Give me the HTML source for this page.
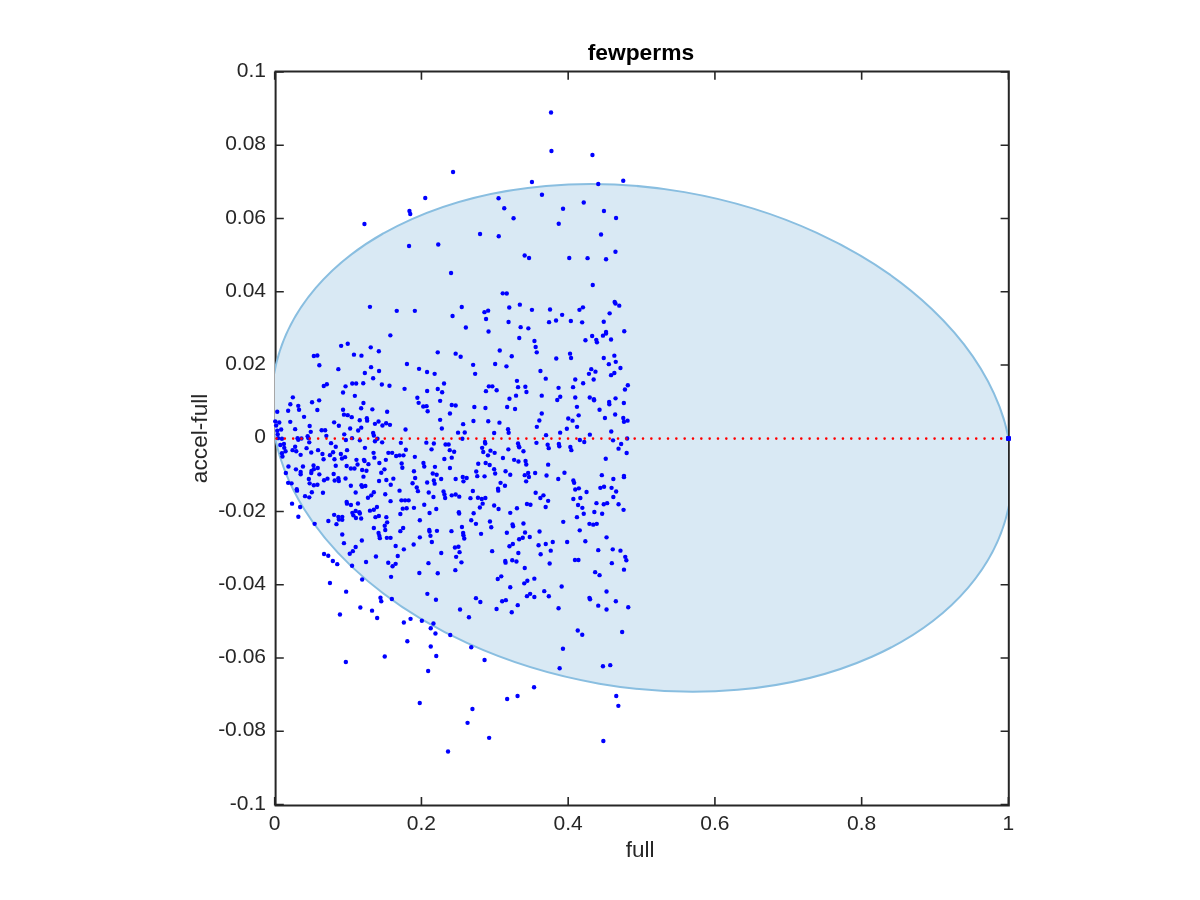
<!DOCTYPE html>
<html><head><meta charset="utf-8"><style>
html,body{margin:0;padding:0;background:#fff;}
body{width:1200px;height:900px;overflow:hidden;}
svg{display:block;will-change:transform;}
text{font-family:"Liberation Sans",sans-serif;}
</style></head><body>
<svg width="1200" height="900" viewBox="0 0 1200 900">
<defs><clipPath id="ax"><rect x="275" y="71.5" width="733" height="734"/></clipPath></defs>

<g stroke="#262626" fill="none" stroke-width="2"><path d="M275.6 71.5 H1008.8 V805.5 H275.6 Z"/></g>
<path d="M274.70 805.4 V797 M274.70 71.4 V79.8 M421.44 805.4 V797 M421.44 71.4 V79.8 M568.18 805.4 V797 M568.18 71.4 V79.8 M714.92 805.4 V797 M714.92 71.4 V79.8 M861.66 805.4 V797 M861.66 71.4 V79.8 M1008.40 805.4 V797 M1008.40 71.4 V79.8 M275.6 804.55 H283.8 M1008.8 804.55 H1000.6 M275.6 731.30 H283.8 M1008.8 731.30 H1000.6 M275.6 658.05 H283.8 M1008.8 658.05 H1000.6 M275.6 584.80 H283.8 M1008.8 584.80 H1000.6 M275.6 511.55 H283.8 M1008.8 511.55 H1000.6 M275.6 438.30 H283.8 M1008.8 438.30 H1000.6 M275.6 365.05 H283.8 M1008.8 365.05 H1000.6 M275.6 291.80 H283.8 M1008.8 291.80 H1000.6 M275.6 218.55 H283.8 M1008.8 218.55 H1000.6 M275.6 145.30 H283.8 M1008.8 145.30 H1000.6 M275.6 72.05 H283.8 M1008.8 72.05 H1000.6" stroke="#262626" stroke-width="1.6" fill="none"/>
<g clip-path="url(#ax)"><ellipse cx="641.87" cy="437.9" rx="373.28" ry="249.43" transform="rotate(9.83 641.87 437.9)" fill="#d9e9f4" stroke="#89bee0" stroke-width="2"/></g>
<g id="dots" fill="#0000ff"><circle cx="453.05" cy="171.95" r="2.2"/><circle cx="425.25" cy="198.05" r="2.2"/><circle cx="409.45" cy="211.05" r="2.2"/><circle cx="410.25" cy="214.05" r="2.2"/><circle cx="364.45" cy="223.95" r="2.2"/><circle cx="409.05" cy="246.05" r="2.2"/><circle cx="438.25" cy="244.45" r="2.2"/><circle cx="551.05" cy="112.45" r="2.2"/><circle cx="551.45" cy="151.05" r="2.2"/><circle cx="592.45" cy="154.95" r="2.2"/><circle cx="531.95" cy="181.95" r="2.2"/><circle cx="598.25" cy="184.05" r="2.2"/><circle cx="623.25" cy="180.75" r="2.2"/><circle cx="498.55" cy="198.25" r="2.2"/><circle cx="541.95" cy="194.75" r="2.2"/><circle cx="504.25" cy="208.25" r="2.2"/><circle cx="563.05" cy="208.75" r="2.2"/><circle cx="583.75" cy="202.45" r="2.2"/><circle cx="603.95" cy="211.05" r="2.2"/><circle cx="616.05" cy="217.95" r="2.2"/><circle cx="513.55" cy="218.25" r="2.2"/><circle cx="558.75" cy="223.75" r="2.2"/><circle cx="480.05" cy="234.05" r="2.2"/><circle cx="498.75" cy="236.25" r="2.2"/><circle cx="601.05" cy="234.45" r="2.2"/><circle cx="369.95" cy="306.85" r="2.2"/><circle cx="390.35" cy="335.35" r="2.2"/><circle cx="524.65" cy="255.45" r="2.2"/><circle cx="529.05" cy="257.95" r="2.2"/><circle cx="569.25" cy="257.95" r="2.2"/><circle cx="587.55" cy="258.15" r="2.2"/><circle cx="606.05" cy="259.25" r="2.2"/><circle cx="615.45" cy="251.75" r="2.2"/><circle cx="451.05" cy="272.95" r="2.2"/><circle cx="592.75" cy="285.05" r="2.2"/><circle cx="502.75" cy="293.35" r="2.2"/><circle cx="506.75" cy="293.55" r="2.2"/><circle cx="396.75" cy="310.85" r="2.2"/><circle cx="414.85" cy="310.85" r="2.2"/><circle cx="461.75" cy="306.95" r="2.2"/><circle cx="452.55" cy="316.05" r="2.2"/><circle cx="484.45" cy="312.15" r="2.2"/><circle cx="488.15" cy="310.65" r="2.2"/><circle cx="486.05" cy="319.05" r="2.2"/><circle cx="465.85" cy="327.55" r="2.2"/><circle cx="488.55" cy="331.55" r="2.2"/><circle cx="509.25" cy="307.55" r="2.2"/><circle cx="519.85" cy="304.65" r="2.2"/><circle cx="531.95" cy="309.85" r="2.2"/><circle cx="550.05" cy="309.45" r="2.2"/><circle cx="562.15" cy="314.85" r="2.2"/><circle cx="579.45" cy="309.85" r="2.2"/><circle cx="582.95" cy="307.35" r="2.2"/><circle cx="614.65" cy="301.95" r="2.2"/><circle cx="615.45" cy="303.55" r="2.2"/><circle cx="619.25" cy="305.65" r="2.2"/><circle cx="609.65" cy="313.35" r="2.2"/><circle cx="508.55" cy="321.95" r="2.2"/><circle cx="549.05" cy="322.15" r="2.2"/><circle cx="556.05" cy="320.45" r="2.2"/><circle cx="570.85" cy="321.05" r="2.2"/><circle cx="582.15" cy="322.35" r="2.2"/><circle cx="603.75" cy="321.75" r="2.2"/><circle cx="520.65" cy="327.15" r="2.2"/><circle cx="528.35" cy="328.35" r="2.2"/><circle cx="624.25" cy="331.25" r="2.2"/><circle cx="606.05" cy="331.95" r="2.2"/><circle cx="606.05" cy="333.55" r="2.2"/><circle cx="602.95" cy="335.65" r="2.2"/><circle cx="592.15" cy="336.05" r="2.2"/><circle cx="519.25" cy="337.95" r="2.2"/><circle cx="534.45" cy="341.05" r="2.2"/><circle cx="585.45" cy="340.25" r="2.2"/><circle cx="596.25" cy="339.85" r="2.2"/><circle cx="596.95" cy="342.35" r="2.2"/><circle cx="611.05" cy="339.45" r="2.2"/><circle cx="341.15" cy="345.85" r="2.2"/><circle cx="347.75" cy="343.75" r="2.2"/><circle cx="370.75" cy="347.35" r="2.2"/><circle cx="378.85" cy="351.25" r="2.2"/><circle cx="437.75" cy="352.35" r="2.2"/><circle cx="455.65" cy="353.65" r="2.2"/><circle cx="313.85" cy="355.95" r="2.2"/><circle cx="317.35" cy="355.45" r="2.2"/><circle cx="353.95" cy="354.65" r="2.2"/><circle cx="361.45" cy="355.65" r="2.2"/><circle cx="319.35" cy="365.25" r="2.2"/><circle cx="338.35" cy="369.15" r="2.2"/><circle cx="371.05" cy="367.15" r="2.2"/><circle cx="379.05" cy="371.05" r="2.2"/><circle cx="364.85" cy="373.05" r="2.2"/><circle cx="373.15" cy="378.25" r="2.2"/><circle cx="406.95" cy="364.05" r="2.2"/><circle cx="419.05" cy="368.85" r="2.2"/><circle cx="427.05" cy="371.95" r="2.2"/><circle cx="434.65" cy="373.85" r="2.2"/><circle cx="444.05" cy="383.55" r="2.2"/><circle cx="323.75" cy="386.05" r="2.2"/><circle cx="326.85" cy="384.25" r="2.2"/><circle cx="345.55" cy="386.35" r="2.2"/><circle cx="343.05" cy="392.45" r="2.2"/><circle cx="352.25" cy="383.55" r="2.2"/><circle cx="356.15" cy="383.55" r="2.2"/><circle cx="363.25" cy="383.25" r="2.2"/><circle cx="381.85" cy="384.45" r="2.2"/><circle cx="389.45" cy="385.75" r="2.2"/><circle cx="404.55" cy="388.85" r="2.2"/><circle cx="427.15" cy="391.05" r="2.2"/><circle cx="437.75" cy="388.95" r="2.2"/><circle cx="442.15" cy="392.25" r="2.2"/><circle cx="354.85" cy="395.85" r="2.2"/><circle cx="292.85" cy="397.35" r="2.2"/><circle cx="290.35" cy="404.25" r="2.2"/><circle cx="298.25" cy="405.85" r="2.2"/><circle cx="299.05" cy="409.75" r="2.2"/><circle cx="312.05" cy="402.25" r="2.2"/><circle cx="319.15" cy="400.35" r="2.2"/><circle cx="317.35" cy="410.05" r="2.2"/><circle cx="277.25" cy="411.75" r="2.2"/><circle cx="288.15" cy="410.75" r="2.2"/><circle cx="304.05" cy="416.85" r="2.2"/><circle cx="363.45" cy="403.05" r="2.2"/><circle cx="361.15" cy="408.25" r="2.2"/><circle cx="372.35" cy="409.35" r="2.2"/><circle cx="387.15" cy="411.75" r="2.2"/><circle cx="343.05" cy="409.75" r="2.2"/><circle cx="343.95" cy="414.65" r="2.2"/><circle cx="347.75" cy="415.15" r="2.2"/><circle cx="351.75" cy="417.15" r="2.2"/><circle cx="417.35" cy="397.75" r="2.2"/><circle cx="418.65" cy="402.85" r="2.2"/><circle cx="423.25" cy="406.55" r="2.2"/><circle cx="426.55" cy="406.15" r="2.2"/><circle cx="427.65" cy="411.25" r="2.2"/><circle cx="440.15" cy="400.85" r="2.2"/><circle cx="451.75" cy="405.05" r="2.2"/><circle cx="455.65" cy="405.45" r="2.2"/><circle cx="449.95" cy="413.55" r="2.2"/><circle cx="440.15" cy="419.85" r="2.2"/><circle cx="441.85" cy="428.45" r="2.2"/><circle cx="405.55" cy="429.45" r="2.2"/><circle cx="275.25" cy="421.35" r="2.2"/><circle cx="279.25" cy="422.45" r="2.2"/><circle cx="276.15" cy="425.55" r="2.2"/><circle cx="290.25" cy="421.85" r="2.2"/><circle cx="281.15" cy="429.45" r="2.2"/><circle cx="277.25" cy="430.75" r="2.2"/><circle cx="277.75" cy="434.35" r="2.2"/><circle cx="295.15" cy="429.15" r="2.2"/><circle cx="309.65" cy="426.05" r="2.2"/><circle cx="310.75" cy="431.85" r="2.2"/><circle cx="321.65" cy="430.25" r="2.2"/><circle cx="325.15" cy="430.25" r="2.2"/><circle cx="326.35" cy="435.85" r="2.2"/><circle cx="307.65" cy="436.25" r="2.2"/><circle cx="334.15" cy="422.35" r="2.2"/><circle cx="338.85" cy="425.75" r="2.2"/><circle cx="344.25" cy="434.35" r="2.2"/><circle cx="350.15" cy="428.45" r="2.2"/><circle cx="359.75" cy="420.25" r="2.2"/><circle cx="366.85" cy="418.25" r="2.2"/><circle cx="367.15" cy="420.65" r="2.2"/><circle cx="361.25" cy="427.65" r="2.2"/><circle cx="358.15" cy="430.45" r="2.2"/><circle cx="374.95" cy="423.85" r="2.2"/><circle cx="378.55" cy="421.55" r="2.2"/><circle cx="382.45" cy="425.55" r="2.2"/><circle cx="386.15" cy="423.25" r="2.2"/><circle cx="389.95" cy="424.85" r="2.2"/><circle cx="373.15" cy="433.05" r="2.2"/><circle cx="373.85" cy="435.45" r="2.2"/><circle cx="460.65" cy="356.75" r="2.2"/><circle cx="499.75" cy="350.45" r="2.2"/><circle cx="511.75" cy="356.25" r="2.2"/><circle cx="535.65" cy="347.05" r="2.2"/><circle cx="536.75" cy="352.35" r="2.2"/><circle cx="556.25" cy="358.55" r="2.2"/><circle cx="570.05" cy="353.65" r="2.2"/><circle cx="571.05" cy="357.95" r="2.2"/><circle cx="603.75" cy="357.95" r="2.2"/><circle cx="614.35" cy="355.65" r="2.2"/><circle cx="615.75" cy="361.85" r="2.2"/><circle cx="608.85" cy="364.15" r="2.2"/><circle cx="620.45" cy="367.95" r="2.2"/><circle cx="473.15" cy="364.85" r="2.2"/><circle cx="475.15" cy="373.85" r="2.2"/><circle cx="495.15" cy="364.05" r="2.2"/><circle cx="506.45" cy="366.35" r="2.2"/><circle cx="540.45" cy="371.05" r="2.2"/><circle cx="545.75" cy="378.65" r="2.2"/><circle cx="591.25" cy="369.15" r="2.2"/><circle cx="595.45" cy="371.65" r="2.2"/><circle cx="588.95" cy="373.85" r="2.2"/><circle cx="593.65" cy="379.45" r="2.2"/><circle cx="611.05" cy="375.15" r="2.2"/><circle cx="614.35" cy="372.95" r="2.2"/><circle cx="575.25" cy="379.45" r="2.2"/><circle cx="583.15" cy="383.25" r="2.2"/><circle cx="516.95" cy="380.85" r="2.2"/><circle cx="518.05" cy="387.15" r="2.2"/><circle cx="525.35" cy="386.75" r="2.2"/><circle cx="526.45" cy="392.05" r="2.2"/><circle cx="488.85" cy="386.35" r="2.2"/><circle cx="492.35" cy="386.35" r="2.2"/><circle cx="496.65" cy="390.25" r="2.2"/><circle cx="485.95" cy="391.15" r="2.2"/><circle cx="558.55" cy="387.85" r="2.2"/><circle cx="573.05" cy="387.15" r="2.2"/><circle cx="627.85" cy="385.25" r="2.2"/><circle cx="624.95" cy="389.45" r="2.2"/><circle cx="516.05" cy="395.65" r="2.2"/><circle cx="509.45" cy="398.75" r="2.2"/><circle cx="541.75" cy="395.65" r="2.2"/><circle cx="560.25" cy="396.75" r="2.2"/><circle cx="557.25" cy="400.05" r="2.2"/><circle cx="575.25" cy="397.55" r="2.2"/><circle cx="589.75" cy="397.55" r="2.2"/><circle cx="593.95" cy="399.15" r="2.2"/><circle cx="594.05" cy="400.35" r="2.2"/><circle cx="615.55" cy="398.35" r="2.2"/><circle cx="609.15" cy="402.05" r="2.2"/><circle cx="609.35" cy="404.25" r="2.2"/><circle cx="623.85" cy="403.05" r="2.2"/><circle cx="474.35" cy="407.05" r="2.2"/><circle cx="485.45" cy="407.95" r="2.2"/><circle cx="507.15" cy="407.05" r="2.2"/><circle cx="515.05" cy="408.95" r="2.2"/><circle cx="576.95" cy="406.85" r="2.2"/><circle cx="599.55" cy="409.75" r="2.2"/><circle cx="541.75" cy="413.55" r="2.2"/><circle cx="578.65" cy="415.35" r="2.2"/><circle cx="615.15" cy="414.55" r="2.2"/><circle cx="604.95" cy="417.95" r="2.2"/><circle cx="623.25" cy="417.95" r="2.2"/><circle cx="623.95" cy="421.75" r="2.2"/><circle cx="627.55" cy="420.65" r="2.2"/><circle cx="568.25" cy="418.45" r="2.2"/><circle cx="572.55" cy="420.65" r="2.2"/><circle cx="539.35" cy="420.45" r="2.2"/><circle cx="536.85" cy="426.85" r="2.2"/><circle cx="577.05" cy="426.85" r="2.2"/><circle cx="566.85" cy="428.75" r="2.2"/><circle cx="463.15" cy="424.15" r="2.2"/><circle cx="473.45" cy="420.95" r="2.2"/><circle cx="488.25" cy="421.25" r="2.2"/><circle cx="499.45" cy="422.65" r="2.2"/><circle cx="508.05" cy="429.15" r="2.2"/><circle cx="508.65" cy="432.75" r="2.2"/><circle cx="494.15" cy="433.05" r="2.2"/><circle cx="464.75" cy="432.45" r="2.2"/><circle cx="458.05" cy="432.65" r="2.2"/><circle cx="560.15" cy="432.65" r="2.2"/><circle cx="546.05" cy="435.15" r="2.2"/><circle cx="589.85" cy="434.65" r="2.2"/><circle cx="611.25" cy="431.55" r="2.2"/><circle cx="278.05" cy="438.15" r="2.2"/><circle cx="281.95" cy="438.75" r="2.2"/><circle cx="297.55" cy="438.15" r="2.2"/><circle cx="298.25" cy="439.75" r="2.2"/><circle cx="301.45" cy="438.45" r="2.2"/><circle cx="308.45" cy="438.15" r="2.2"/><circle cx="309.25" cy="442.35" r="2.2"/><circle cx="345.85" cy="440.05" r="2.2"/><circle cx="352.05" cy="438.15" r="2.2"/><circle cx="359.85" cy="440.35" r="2.2"/><circle cx="374.95" cy="441.25" r="2.2"/><circle cx="377.45" cy="438.75" r="2.2"/><circle cx="382.15" cy="442.35" r="2.2"/><circle cx="331.05" cy="443.15" r="2.2"/><circle cx="400.85" cy="442.85" r="2.2"/><circle cx="426.35" cy="442.65" r="2.2"/><circle cx="433.85" cy="443.45" r="2.2"/><circle cx="445.55" cy="444.45" r="2.2"/><circle cx="448.65" cy="444.45" r="2.2"/><circle cx="280.35" cy="445.05" r="2.2"/><circle cx="283.95" cy="443.95" r="2.2"/><circle cx="284.25" cy="447.85" r="2.2"/><circle cx="285.55" cy="451.25" r="2.2"/><circle cx="281.95" cy="453.25" r="2.2"/><circle cx="282.45" cy="456.45" r="2.2"/><circle cx="295.15" cy="446.75" r="2.2"/><circle cx="292.55" cy="450.15" r="2.2"/><circle cx="296.25" cy="451.25" r="2.2"/><circle cx="300.65" cy="454.85" r="2.2"/><circle cx="306.55" cy="448.15" r="2.2"/><circle cx="311.25" cy="452.55" r="2.2"/><circle cx="318.05" cy="450.15" r="2.2"/><circle cx="322.45" cy="454.05" r="2.2"/><circle cx="323.55" cy="459.25" r="2.2"/><circle cx="335.75" cy="446.75" r="2.2"/><circle cx="333.05" cy="452.25" r="2.2"/><circle cx="329.95" cy="455.15" r="2.2"/><circle cx="334.45" cy="459.25" r="2.2"/><circle cx="340.85" cy="454.05" r="2.2"/><circle cx="341.95" cy="458.45" r="2.2"/><circle cx="345.05" cy="457.15" r="2.2"/><circle cx="347.05" cy="450.15" r="2.2"/><circle cx="364.95" cy="447.85" r="2.2"/><circle cx="373.55" cy="452.85" r="2.2"/><circle cx="374.35" cy="457.65" r="2.2"/><circle cx="356.45" cy="459.85" r="2.2"/><circle cx="357.55" cy="464.55" r="2.2"/><circle cx="363.95" cy="459.85" r="2.2"/><circle cx="364.55" cy="461.05" r="2.2"/><circle cx="368.45" cy="464.15" r="2.2"/><circle cx="385.85" cy="459.85" r="2.2"/><circle cx="379.35" cy="462.95" r="2.2"/><circle cx="388.35" cy="452.85" r="2.2"/><circle cx="392.15" cy="452.85" r="2.2"/><circle cx="396.15" cy="456.05" r="2.2"/><circle cx="399.55" cy="455.35" r="2.2"/><circle cx="403.45" cy="455.35" r="2.2"/><circle cx="405.85" cy="449.75" r="2.2"/><circle cx="414.85" cy="456.85" r="2.2"/><circle cx="431.55" cy="449.35" r="2.2"/><circle cx="444.35" cy="459.05" r="2.2"/><circle cx="449.75" cy="450.15" r="2.2"/><circle cx="454.15" cy="451.75" r="2.2"/><circle cx="451.75" cy="457.65" r="2.2"/><circle cx="288.45" cy="466.55" r="2.2"/><circle cx="285.85" cy="473.05" r="2.2"/><circle cx="295.95" cy="469.35" r="2.2"/><circle cx="300.65" cy="471.95" r="2.2"/><circle cx="300.65" cy="474.35" r="2.2"/><circle cx="302.95" cy="466.55" r="2.2"/><circle cx="313.55" cy="465.45" r="2.2"/><circle cx="313.85" cy="469.15" r="2.2"/><circle cx="317.75" cy="468.05" r="2.2"/><circle cx="311.55" cy="470.85" r="2.2"/><circle cx="311.25" cy="473.05" r="2.2"/><circle cx="319.35" cy="474.35" r="2.2"/><circle cx="335.75" cy="465.75" r="2.2"/><circle cx="333.65" cy="474.05" r="2.2"/><circle cx="346.65" cy="466.05" r="2.2"/><circle cx="350.85" cy="468.55" r="2.2"/><circle cx="354.45" cy="468.55" r="2.2"/><circle cx="362.15" cy="469.95" r="2.2"/><circle cx="366.45" cy="470.75" r="2.2"/><circle cx="363.45" cy="476.65" r="2.2"/><circle cx="384.45" cy="469.35" r="2.2"/><circle cx="381.25" cy="472.75" r="2.2"/><circle cx="401.65" cy="463.45" r="2.2"/><circle cx="402.35" cy="467.75" r="2.2"/><circle cx="423.45" cy="462.95" r="2.2"/><circle cx="424.25" cy="466.55" r="2.2"/><circle cx="434.95" cy="466.85" r="2.2"/><circle cx="449.95" cy="468.05" r="2.2"/><circle cx="413.95" cy="471.25" r="2.2"/><circle cx="432.75" cy="473.55" r="2.2"/><circle cx="436.65" cy="474.75" r="2.2"/><circle cx="415.15" cy="477.95" r="2.2"/><circle cx="441.15" cy="479.05" r="2.2"/><circle cx="455.65" cy="479.05" r="2.2"/><circle cx="433.85" cy="480.55" r="2.2"/><circle cx="434.65" cy="483.65" r="2.2"/><circle cx="427.15" cy="482.55" r="2.2"/><circle cx="412.55" cy="483.25" r="2.2"/><circle cx="308.85" cy="479.05" r="2.2"/><circle cx="309.65" cy="483.35" r="2.2"/><circle cx="313.85" cy="485.25" r="2.2"/><circle cx="317.45" cy="484.75" r="2.2"/><circle cx="324.05" cy="480.25" r="2.2"/><circle cx="327.45" cy="478.65" r="2.2"/><circle cx="334.65" cy="480.55" r="2.2"/><circle cx="338.35" cy="478.25" r="2.2"/><circle cx="338.85" cy="481.05" r="2.2"/><circle cx="345.55" cy="478.55" r="2.2"/><circle cx="379.05" cy="481.05" r="2.2"/><circle cx="386.35" cy="480.05" r="2.2"/><circle cx="393.35" cy="478.65" r="2.2"/><circle cx="390.75" cy="484.75" r="2.2"/><circle cx="288.15" cy="482.85" r="2.2"/><circle cx="291.55" cy="483.35" r="2.2"/><circle cx="296.75" cy="489.15" r="2.2"/><circle cx="297.05" cy="490.65" r="2.2"/><circle cx="350.85" cy="485.75" r="2.2"/><circle cx="361.45" cy="485.25" r="2.2"/><circle cx="362.15" cy="486.75" r="2.2"/><circle cx="365.35" cy="486.05" r="2.2"/><circle cx="399.55" cy="490.65" r="2.2"/><circle cx="416.75" cy="487.55" r="2.2"/><circle cx="417.95" cy="491.15" r="2.2"/><circle cx="428.75" cy="492.55" r="2.2"/><circle cx="433.45" cy="496.95" r="2.2"/><circle cx="443.55" cy="491.45" r="2.2"/><circle cx="444.45" cy="494.55" r="2.2"/><circle cx="445.15" cy="498.05" r="2.2"/><circle cx="451.75" cy="495.35" r="2.2"/><circle cx="455.65" cy="494.55" r="2.2"/><circle cx="311.85" cy="492.25" r="2.2"/><circle cx="322.95" cy="492.75" r="2.2"/><circle cx="355.65" cy="492.55" r="2.2"/><circle cx="373.85" cy="492.25" r="2.2"/><circle cx="371.25" cy="495.35" r="2.2"/><circle cx="367.95" cy="497.75" r="2.2"/><circle cx="385.25" cy="494.25" r="2.2"/><circle cx="305.05" cy="496.15" r="2.2"/><circle cx="309.25" cy="497.35" r="2.2"/><circle cx="346.65" cy="501.95" r="2.2"/><circle cx="346.95" cy="503.65" r="2.2"/><circle cx="350.95" cy="505.05" r="2.2"/><circle cx="357.95" cy="503.45" r="2.2"/><circle cx="390.55" cy="501.15" r="2.2"/><circle cx="401.45" cy="500.35" r="2.2"/><circle cx="405.05" cy="500.35" r="2.2"/><circle cx="408.65" cy="500.35" r="2.2"/><circle cx="424.25" cy="504.75" r="2.2"/><circle cx="436.25" cy="508.95" r="2.2"/><circle cx="292.05" cy="503.65" r="2.2"/><circle cx="300.15" cy="507.05" r="2.2"/><circle cx="376.95" cy="507.05" r="2.2"/><circle cx="373.85" cy="509.75" r="2.2"/><circle cx="369.95" cy="510.65" r="2.2"/><circle cx="402.75" cy="508.65" r="2.2"/><circle cx="406.65" cy="508.25" r="2.2"/><circle cx="413.95" cy="507.85" r="2.2"/><circle cx="355.65" cy="510.95" r="2.2"/><circle cx="359.35" cy="512.25" r="2.2"/><circle cx="352.35" cy="512.85" r="2.2"/><circle cx="353.35" cy="515.35" r="2.2"/><circle cx="359.85" cy="513.55" r="2.2"/><circle cx="355.95" cy="517.95" r="2.2"/><circle cx="361.15" cy="518.45" r="2.2"/><circle cx="334.15" cy="514.85" r="2.2"/><circle cx="338.35" cy="516.85" r="2.2"/><circle cx="342.25" cy="516.85" r="2.2"/><circle cx="338.85" cy="519.55" r="2.2"/><circle cx="342.25" cy="519.85" r="2.2"/><circle cx="336.45" cy="524.15" r="2.2"/><circle cx="328.35" cy="521.05" r="2.2"/><circle cx="298.35" cy="516.75" r="2.2"/><circle cx="314.65" cy="523.85" r="2.2"/><circle cx="375.45" cy="517.15" r="2.2"/><circle cx="378.85" cy="516.05" r="2.2"/><circle cx="386.35" cy="517.15" r="2.2"/><circle cx="387.15" cy="522.35" r="2.2"/><circle cx="384.75" cy="525.75" r="2.2"/><circle cx="400.35" cy="514.05" r="2.2"/><circle cx="419.85" cy="520.25" r="2.2"/><circle cx="429.55" cy="512.95" r="2.2"/><circle cx="462.35" cy="438.75" r="2.2"/><circle cx="484.95" cy="441.95" r="2.2"/><circle cx="485.25" cy="443.45" r="2.2"/><circle cx="536.45" cy="442.85" r="2.2"/><circle cx="518.05" cy="443.45" r="2.2"/><circle cx="518.85" cy="446.25" r="2.2"/><circle cx="519.25" cy="447.35" r="2.2"/><circle cx="547.65" cy="444.75" r="2.2"/><circle cx="548.75" cy="448.15" r="2.2"/><circle cx="558.85" cy="443.95" r="2.2"/><circle cx="559.35" cy="446.25" r="2.2"/><circle cx="570.35" cy="447.05" r="2.2"/><circle cx="571.35" cy="450.15" r="2.2"/><circle cx="579.85" cy="440.05" r="2.2"/><circle cx="584.25" cy="442.05" r="2.2"/><circle cx="613.05" cy="440.35" r="2.2"/><circle cx="621.15" cy="443.95" r="2.2"/><circle cx="627.15" cy="438.45" r="2.2"/><circle cx="618.55" cy="448.65" r="2.2"/><circle cx="626.65" cy="452.95" r="2.2"/><circle cx="482.15" cy="447.85" r="2.2"/><circle cx="483.25" cy="452.05" r="2.2"/><circle cx="490.45" cy="450.65" r="2.2"/><circle cx="494.65" cy="452.85" r="2.2"/><circle cx="487.95" cy="455.35" r="2.2"/><circle cx="508.35" cy="449.35" r="2.2"/><circle cx="523.45" cy="451.25" r="2.2"/><circle cx="502.95" cy="457.95" r="2.2"/><circle cx="514.15" cy="459.85" r="2.2"/><circle cx="518.45" cy="461.55" r="2.2"/><circle cx="525.55" cy="461.05" r="2.2"/><circle cx="526.25" cy="464.55" r="2.2"/><circle cx="548.15" cy="464.65" r="2.2"/><circle cx="605.75" cy="458.75" r="2.2"/><circle cx="478.25" cy="463.75" r="2.2"/><circle cx="485.65" cy="462.95" r="2.2"/><circle cx="489.65" cy="464.95" r="2.2"/><circle cx="494.15" cy="469.15" r="2.2"/><circle cx="495.15" cy="473.55" r="2.2"/><circle cx="476.25" cy="471.55" r="2.2"/><circle cx="477.25" cy="476.15" r="2.2"/><circle cx="484.55" cy="476.35" r="2.2"/><circle cx="505.55" cy="471.25" r="2.2"/><circle cx="510.25" cy="474.75" r="2.2"/><circle cx="528.15" cy="473.05" r="2.2"/><circle cx="524.75" cy="475.15" r="2.2"/><circle cx="528.95" cy="476.95" r="2.2"/><circle cx="535.15" cy="473.05" r="2.2"/><circle cx="546.55" cy="475.55" r="2.2"/><circle cx="564.45" cy="472.75" r="2.2"/><circle cx="558.25" cy="479.05" r="2.2"/><circle cx="601.85" cy="475.15" r="2.2"/><circle cx="613.35" cy="479.05" r="2.2"/><circle cx="623.95" cy="475.85" r="2.2"/><circle cx="623.95" cy="477.15" r="2.2"/><circle cx="462.75" cy="476.95" r="2.2"/><circle cx="466.65" cy="477.95" r="2.2"/><circle cx="463.45" cy="481.35" r="2.2"/><circle cx="526.15" cy="481.35" r="2.2"/><circle cx="573.35" cy="480.55" r="2.2"/><circle cx="574.15" cy="482.85" r="2.2"/><circle cx="500.55" cy="482.85" r="2.2"/><circle cx="504.95" cy="485.75" r="2.2"/><circle cx="498.05" cy="488.65" r="2.2"/><circle cx="498.25" cy="490.65" r="2.2"/><circle cx="575.25" cy="489.55" r="2.2"/><circle cx="578.85" cy="488.35" r="2.2"/><circle cx="586.55" cy="491.95" r="2.2"/><circle cx="600.35" cy="487.85" r="2.2"/><circle cx="604.05" cy="486.75" r="2.2"/><circle cx="611.55" cy="487.85" r="2.2"/><circle cx="616.15" cy="491.45" r="2.2"/><circle cx="613.35" cy="496.95" r="2.2"/><circle cx="472.85" cy="491.05" r="2.2"/><circle cx="459.25" cy="496.65" r="2.2"/><circle cx="470.45" cy="498.15" r="2.2"/><circle cx="477.95" cy="497.75" r="2.2"/><circle cx="481.75" cy="498.95" r="2.2"/><circle cx="485.35" cy="498.05" r="2.2"/><circle cx="482.65" cy="503.65" r="2.2"/><circle cx="479.85" cy="507.55" r="2.2"/><circle cx="535.65" cy="492.75" r="2.2"/><circle cx="543.45" cy="495.35" r="2.2"/><circle cx="540.35" cy="498.05" r="2.2"/><circle cx="548.15" cy="500.85" r="2.2"/><circle cx="526.95" cy="503.95" r="2.2"/><circle cx="530.45" cy="504.75" r="2.2"/><circle cx="545.65" cy="507.05" r="2.2"/><circle cx="573.35" cy="498.95" r="2.2"/><circle cx="580.35" cy="498.05" r="2.2"/><circle cx="578.05" cy="505.05" r="2.2"/><circle cx="582.35" cy="507.85" r="2.2"/><circle cx="596.45" cy="503.15" r="2.2"/><circle cx="603.75" cy="504.25" r="2.2"/><circle cx="607.15" cy="503.15" r="2.2"/><circle cx="618.55" cy="504.25" r="2.2"/><circle cx="623.55" cy="509.85" r="2.2"/><circle cx="494.15" cy="505.45" r="2.2"/><circle cx="498.55" cy="509.05" r="2.2"/><circle cx="516.95" cy="508.25" r="2.2"/><circle cx="510.25" cy="512.85" r="2.2"/><circle cx="458.85" cy="512.15" r="2.2"/><circle cx="459.15" cy="513.55" r="2.2"/><circle cx="473.65" cy="513.25" r="2.2"/><circle cx="594.35" cy="512.05" r="2.2"/><circle cx="602.15" cy="513.75" r="2.2"/><circle cx="583.75" cy="513.75" r="2.2"/><circle cx="576.95" cy="517.15" r="2.2"/><circle cx="471.25" cy="520.25" r="2.2"/><circle cx="475.95" cy="523.85" r="2.2"/><circle cx="489.95" cy="521.55" r="2.2"/><circle cx="563.25" cy="521.85" r="2.2"/><circle cx="523.45" cy="523.45" r="2.2"/><circle cx="512.55" cy="524.55" r="2.2"/><circle cx="589.45" cy="523.85" r="2.2"/><circle cx="593.25" cy="524.65" r="2.2"/><circle cx="596.75" cy="523.85" r="2.2"/><circle cx="342.25" cy="534.55" r="2.2"/><circle cx="343.95" cy="543.15" r="2.2"/><circle cx="373.85" cy="528.05" r="2.2"/><circle cx="385.25" cy="529.95" r="2.2"/><circle cx="378.55" cy="533.05" r="2.2"/><circle cx="379.35" cy="535.85" r="2.2"/><circle cx="379.85" cy="538.15" r="2.2"/><circle cx="386.85" cy="537.85" r="2.2"/><circle cx="390.55" cy="537.85" r="2.2"/><circle cx="403.15" cy="528.05" r="2.2"/><circle cx="400.35" cy="531.15" r="2.2"/><circle cx="419.85" cy="537.35" r="2.2"/><circle cx="429.25" cy="529.95" r="2.2"/><circle cx="429.55" cy="531.45" r="2.2"/><circle cx="430.45" cy="535.85" r="2.2"/><circle cx="436.95" cy="530.85" r="2.2"/><circle cx="451.45" cy="531.15" r="2.2"/><circle cx="431.85" cy="542.05" r="2.2"/><circle cx="413.65" cy="544.45" r="2.2"/><circle cx="361.85" cy="540.55" r="2.2"/><circle cx="355.65" cy="547.05" r="2.2"/><circle cx="352.85" cy="551.15" r="2.2"/><circle cx="349.75" cy="553.75" r="2.2"/><circle cx="395.65" cy="545.95" r="2.2"/><circle cx="403.85" cy="549.35" r="2.2"/><circle cx="397.75" cy="556.05" r="2.2"/><circle cx="375.95" cy="556.55" r="2.2"/><circle cx="441.25" cy="552.95" r="2.2"/><circle cx="454.95" cy="547.55" r="2.2"/><circle cx="456.15" cy="556.85" r="2.2"/><circle cx="324.05" cy="554.05" r="2.2"/><circle cx="328.25" cy="555.75" r="2.2"/><circle cx="332.85" cy="561.05" r="2.2"/><circle cx="337.25" cy="564.15" r="2.2"/><circle cx="352.05" cy="565.75" r="2.2"/><circle cx="366.05" cy="562.05" r="2.2"/><circle cx="388.25" cy="562.75" r="2.2"/><circle cx="392.55" cy="566.25" r="2.2"/><circle cx="395.65" cy="563.85" r="2.2"/><circle cx="428.45" cy="563.15" r="2.2"/><circle cx="419.35" cy="572.95" r="2.2"/><circle cx="437.75" cy="573.25" r="2.2"/><circle cx="455.35" cy="570.15" r="2.2"/><circle cx="391.05" cy="576.85" r="2.2"/><circle cx="362.15" cy="579.45" r="2.2"/><circle cx="329.95" cy="583.05" r="2.2"/><circle cx="346.15" cy="591.65" r="2.2"/><circle cx="380.45" cy="597.75" r="2.2"/><circle cx="381.25" cy="601.25" r="2.2"/><circle cx="391.85" cy="598.95" r="2.2"/><circle cx="427.35" cy="593.85" r="2.2"/><circle cx="435.95" cy="599.75" r="2.2"/><circle cx="360.35" cy="607.55" r="2.2"/><circle cx="372.05" cy="610.65" r="2.2"/><circle cx="461.95" cy="526.95" r="2.2"/><circle cx="491.25" cy="527.25" r="2.2"/><circle cx="513.05" cy="526.25" r="2.2"/><circle cx="506.85" cy="532.75" r="2.2"/><circle cx="525.05" cy="532.45" r="2.2"/><circle cx="539.55" cy="531.45" r="2.2"/><circle cx="579.75" cy="530.35" r="2.2"/><circle cx="606.55" cy="537.35" r="2.2"/><circle cx="463.15" cy="533.05" r="2.2"/><circle cx="463.45" cy="535.35" r="2.2"/><circle cx="464.25" cy="538.45" r="2.2"/><circle cx="481.05" cy="533.85" r="2.2"/><circle cx="519.15" cy="539.25" r="2.2"/><circle cx="522.75" cy="537.75" r="2.2"/><circle cx="529.75" cy="536.95" r="2.2"/><circle cx="512.85" cy="543.95" r="2.2"/><circle cx="509.45" cy="546.25" r="2.2"/><circle cx="538.55" cy="545.25" r="2.2"/><circle cx="545.75" cy="543.95" r="2.2"/><circle cx="552.75" cy="542.05" r="2.2"/><circle cx="567.15" cy="542.05" r="2.2"/><circle cx="585.35" cy="541.25" r="2.2"/><circle cx="458.45" cy="546.75" r="2.2"/><circle cx="459.55" cy="552.15" r="2.2"/><circle cx="461.45" cy="562.35" r="2.2"/><circle cx="492.15" cy="551.15" r="2.2"/><circle cx="518.35" cy="552.95" r="2.2"/><circle cx="540.65" cy="554.25" r="2.2"/><circle cx="550.75" cy="550.65" r="2.2"/><circle cx="598.25" cy="550.15" r="2.2"/><circle cx="612.75" cy="549.35" r="2.2"/><circle cx="620.45" cy="550.65" r="2.2"/><circle cx="625.25" cy="556.85" r="2.2"/><circle cx="626.35" cy="560.25" r="2.2"/><circle cx="505.25" cy="561.05" r="2.2"/><circle cx="505.55" cy="562.65" r="2.2"/><circle cx="512.25" cy="560.25" r="2.2"/><circle cx="516.45" cy="561.55" r="2.2"/><circle cx="549.65" cy="563.55" r="2.2"/><circle cx="574.95" cy="559.95" r="2.2"/><circle cx="578.45" cy="559.95" r="2.2"/><circle cx="611.85" cy="563.15" r="2.2"/><circle cx="623.95" cy="569.65" r="2.2"/><circle cx="524.75" cy="568.05" r="2.2"/><circle cx="595.15" cy="572.15" r="2.2"/><circle cx="599.55" cy="575.15" r="2.2"/><circle cx="501.25" cy="576.35" r="2.2"/><circle cx="497.75" cy="579.05" r="2.2"/><circle cx="527.35" cy="580.75" r="2.2"/><circle cx="524.25" cy="583.35" r="2.2"/><circle cx="534.35" cy="578.65" r="2.2"/><circle cx="510.25" cy="587.25" r="2.2"/><circle cx="561.65" cy="586.45" r="2.2"/><circle cx="544.25" cy="591.15" r="2.2"/><circle cx="606.55" cy="591.45" r="2.2"/><circle cx="530.15" cy="593.85" r="2.2"/><circle cx="526.95" cy="596.15" r="2.2"/><circle cx="534.35" cy="597.05" r="2.2"/><circle cx="548.85" cy="596.25" r="2.2"/><circle cx="589.45" cy="597.85" r="2.2"/><circle cx="590.05" cy="599.25" r="2.2"/><circle cx="615.85" cy="601.25" r="2.2"/><circle cx="475.95" cy="598.15" r="2.2"/><circle cx="480.35" cy="602.05" r="2.2"/><circle cx="502.15" cy="601.25" r="2.2"/><circle cx="505.85" cy="600.15" r="2.2"/><circle cx="517.75" cy="605.15" r="2.2"/><circle cx="598.25" cy="605.65" r="2.2"/><circle cx="628.25" cy="607.25" r="2.2"/><circle cx="606.55" cy="609.55" r="2.2"/><circle cx="558.55" cy="608.25" r="2.2"/><circle cx="460.05" cy="609.55" r="2.2"/><circle cx="496.55" cy="609.05" r="2.2"/><circle cx="511.75" cy="612.25" r="2.2"/><circle cx="339.95" cy="614.45" r="2.2"/><circle cx="377.15" cy="617.95" r="2.2"/><circle cx="403.85" cy="622.55" r="2.2"/><circle cx="410.55" cy="618.85" r="2.2"/><circle cx="421.85" cy="620.75" r="2.2"/><circle cx="433.45" cy="623.55" r="2.2"/><circle cx="430.75" cy="628.25" r="2.2"/><circle cx="435.45" cy="633.45" r="2.2"/><circle cx="450.25" cy="635.05" r="2.2"/><circle cx="407.35" cy="641.25" r="2.2"/><circle cx="430.75" cy="646.45" r="2.2"/><circle cx="436.25" cy="656.05" r="2.2"/><circle cx="384.75" cy="656.55" r="2.2"/><circle cx="345.85" cy="662.05" r="2.2"/><circle cx="428.15" cy="671.05" r="2.2"/><circle cx="468.95" cy="617.25" r="2.2"/><circle cx="577.75" cy="630.55" r="2.2"/><circle cx="582.25" cy="634.75" r="2.2"/><circle cx="622.15" cy="632.05" r="2.2"/><circle cx="471.25" cy="647.25" r="2.2"/><circle cx="562.95" cy="648.75" r="2.2"/><circle cx="484.55" cy="659.95" r="2.2"/><circle cx="559.65" cy="668.25" r="2.2"/><circle cx="602.95" cy="666.25" r="2.2"/><circle cx="610.25" cy="665.15" r="2.2"/><circle cx="534.05" cy="687.25" r="2.2"/><circle cx="517.55" cy="695.95" r="2.2"/><circle cx="507.15" cy="698.95" r="2.2"/><circle cx="616.25" cy="695.95" r="2.2"/><circle cx="419.75" cy="703.05" r="2.2"/><circle cx="472.45" cy="708.95" r="2.2"/><circle cx="467.55" cy="722.85" r="2.2"/><circle cx="489.15" cy="737.85" r="2.2"/><circle cx="448.05" cy="751.45" r="2.2"/><circle cx="618.35" cy="705.85" r="2.2"/><circle cx="603.35" cy="740.95" r="2.2"/><rect x="1006" y="435.9" width="5" height="5.2" rx="1"/></g>
<line x1="276.50" y1="438.6" x2="1008.5" y2="438.6" stroke="#ff0000" stroke-width="2.6" stroke-dasharray="0 8.33" stroke-linecap="round"/>
<g font-size="21" fill="#262626"><text x="274.70" y="830" text-anchor="middle">0</text><text x="421.44" y="830" text-anchor="middle">0.2</text><text x="568.18" y="830" text-anchor="middle">0.4</text><text x="714.92" y="830" text-anchor="middle">0.6</text><text x="861.66" y="830" text-anchor="middle">0.8</text><text x="1008.40" y="830" text-anchor="middle">1</text><text x="266" y="809.55" text-anchor="end">-0.1</text><text x="266" y="736.30" text-anchor="end">-0.08</text><text x="266" y="663.05" text-anchor="end">-0.06</text><text x="266" y="589.80" text-anchor="end">-0.04</text><text x="266" y="516.55" text-anchor="end">-0.02</text><text x="266" y="443.30" text-anchor="end">0</text><text x="266" y="370.05" text-anchor="end">0.02</text><text x="266" y="296.80" text-anchor="end">0.04</text><text x="266" y="223.55" text-anchor="end">0.06</text><text x="266" y="150.30" text-anchor="end">0.08</text><text x="266" y="77.05" text-anchor="end">0.1</text></g>
<text x="640.9" y="60.2" text-anchor="middle" font-size="22.8" font-weight="bold" fill="#000">fewperms</text>
<text x="640.1" y="857" text-anchor="middle" font-size="22.5" fill="#262626">full</text>
<text transform="translate(207 438.4) rotate(-90)" text-anchor="middle" font-size="22.7" fill="#262626">accel-full</text>
</svg></body></html>
